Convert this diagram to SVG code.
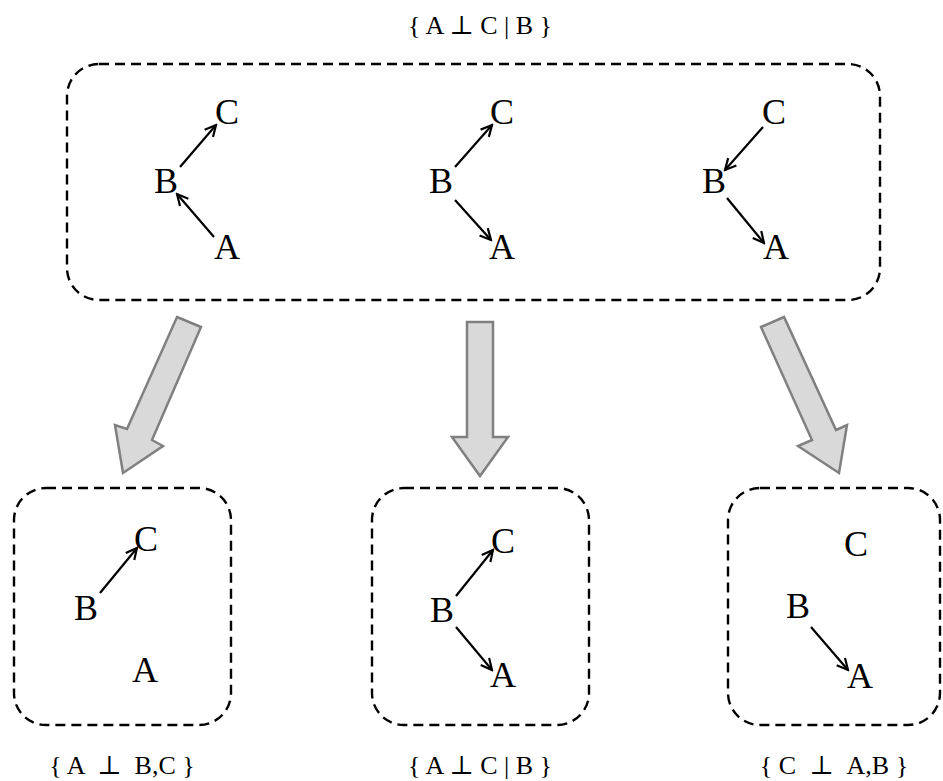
<svg xmlns="http://www.w3.org/2000/svg" width="943" height="781" viewBox="0 0 943 781">
  <style>
    .frame { fill: none; stroke: #000; stroke-width: 2.4; stroke-dasharray: 10 6; }
    .var { font-family: "Liberation Serif", "Times New Roman", serif; font-size: 36px; fill: #000; }
    .label { font-family: "Liberation Serif", "DejaVu Serif", serif; font-size: 26px; fill: #000; text-anchor: middle; }
    .edge { stroke: #000; stroke-width: 2.2; fill: none; marker-end: url(#ah); }
    .block { fill: #d9d9d9; stroke: #808080; stroke-width: 2.5; stroke-linejoin: miter; }
  </style>
  <defs>
    <marker id="ah" viewBox="0 0 14 14" refX="12.5" refY="7" markerWidth="14" markerHeight="14" orient="auto" markerUnits="userSpaceOnUse">
      <path d="M1.5,1.5 L12.5,7 L1.5,12.5" fill="none" stroke="#000" stroke-width="2.2"/>
    </marker>
  </defs>
  <rect width="943" height="781" fill="#fff"/>

  <!-- top: the three equivalent structures -->
  <g id="top-group">
    <rect class="frame" x="67" y="64" width="813" height="236" rx="32" ry="32"/>
    <text class="label" x="480" y="34">{ A ⊥ C | B }</text>
  </g>
  <g id="chain-1">
    <text class="var" x="215" y="124">C</text>
    <text class="var" x="154" y="193">B</text>
    <text class="var" x="214" y="259">A</text>
  </g>
  <g id="fork">
    <text class="var" x="490" y="124">C</text>
    <text class="var" x="429" y="193">B</text>
    <text class="var" x="489" y="259">A</text>
  </g>
  <g id="chain-2">
    <text class="var" x="762" y="124">C</text>
    <text class="var" x="702" y="193">B</text>
    <text class="var" x="763" y="259">A</text>
  </g>

  <!-- bottom: the three alternatives -->
  <g id="alt-1">
    <rect class="frame" x="14" y="488" width="217" height="237" rx="32" ry="32"/>
    <text class="var" x="134" y="551">C</text>
    <text class="var" x="74" y="620">B</text>
    <text class="var" x="132" y="682">A</text>
    <text class="label" x="122" y="774">{ A &#160;⊥ &#160;B,C }</text>
  </g>
  <g id="alt-2">
    <rect class="frame" x="372" y="488" width="217" height="237" rx="32" ry="32"/>
    <text class="var" x="491" y="553">C</text>
    <text class="var" x="430" y="622">B</text>
    <text class="var" x="490" y="687">A</text>
    <text class="label" x="480" y="774">{ A ⊥ C | B }</text>
  </g>
  <g id="alt-3">
    <rect class="frame" x="728" y="488" width="212" height="237" rx="32" ry="32"/>
    <text class="var" x="844" y="556">C</text>
    <text class="var" x="786" y="618">B</text>
    <text class="var" x="847" y="688">A</text>
    <text class="label" x="834" y="774">{ C &#160;⊥ &#160;A,B }</text>
  </g>

  <!-- edges between variables and the block arrows -->
  <g id="connectors">
    <line class="edge" x1="180" y1="167" x2="216" y2="125"/>
    <line class="edge" x1="214" y1="237" x2="177" y2="194"/>
    <line class="edge" x1="455" y1="167" x2="492" y2="125"/>
    <line class="edge" x1="455" y1="200" x2="491" y2="240"/>
    <line class="edge" x1="763" y1="127" x2="725" y2="170"/>
    <line class="edge" x1="727" y1="198" x2="764" y2="243"/>

    <line class="edge" x1="100" y1="593" x2="137" y2="548"/>
    <line class="edge" x1="456" y1="596" x2="493" y2="550"/>
    <line class="edge" x1="456" y1="627" x2="492" y2="670"/>
    <line class="edge" x1="811" y1="627" x2="848" y2="670"/>

    <polygon class="block" points="177,317 201,327 152,440 163,446 123,473 115,425 127,429"/>
    <polygon class="block" points="467,322 493,322 493,437 508,437 480,476 452,437 467,437"/>
    <polygon class="block" points="761,327 784,317 836,430 847,425 839,473 798,446 812,440"/>
  </g>
</svg>
